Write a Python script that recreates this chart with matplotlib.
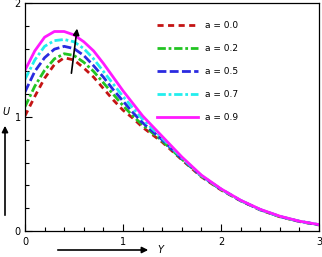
import numpy as np
import matplotlib
matplotlib.use('Agg')
import matplotlib.pyplot as plt
from matplotlib.ticker import MultipleLocator

# values
y_pts = [0.0, 0.1, 0.2, 0.3, 0.4, 0.5, 0.6, 0.7, 0.8, 0.9, 1.0, 1.1, 1.2,
         1.4, 1.6, 1.8, 2.0, 2.2, 2.4, 2.6, 2.8, 3.0]
u_a00 = [1.01, 1.18, 1.34, 1.46, 1.52, 1.50, 1.43, 1.35, 1.25, 1.15, 1.06, 0.99, 0.91,
         0.78, 0.625, 0.475, 0.36, 0.265, 0.185, 0.125, 0.083, 0.053]
u_a02 = [1.09, 1.27, 1.41, 1.51, 1.555, 1.54, 1.48, 1.40, 1.30, 1.20, 1.10, 1.01, 0.93,
         0.79, 0.63, 0.48, 0.363, 0.266, 0.186, 0.126, 0.084, 0.054]
u_a05 = [1.22, 1.40, 1.52, 1.595, 1.62, 1.60, 1.54, 1.45, 1.35, 1.24, 1.14, 1.04, 0.95,
         0.80, 0.635, 0.483, 0.366, 0.267, 0.187, 0.127, 0.085, 0.055]
u_a07 = [1.33, 1.50, 1.62, 1.67, 1.68, 1.66, 1.60, 1.51, 1.40, 1.29, 1.18, 1.08, 0.98,
         0.815, 0.642, 0.486, 0.368, 0.268, 0.188, 0.128, 0.085, 0.055]
u_a09 = [1.41, 1.58, 1.70, 1.75, 1.75, 1.72, 1.66, 1.58, 1.47, 1.35, 1.23, 1.12, 1.01,
         0.83, 0.65, 0.49, 0.37, 0.27, 0.19, 0.13, 0.086, 0.056]
labels = ['a = 0.0', 'a = 0.2', 'a = 0.5', 'a = 0.7', 'a = 0.9']

fig = plt.figure(figsize=(3.22, 2.57), dpi=100)
ax = fig.add_axes([0.0776, 0.1012, 0.9131, 0.8871])

ax.plot(y_pts, u_a00, color='#c41414', lw=2.0, ls=(0, (2.2, 1.6)), label=labels[0])
ax.plot(y_pts, u_a02, color='#22c422', lw=2.0, ls=(0, (3, 1, 1, 1)), label=labels[1])
ax.plot(y_pts, u_a05, color='#2a2ae0', lw=2.0, ls=(0, (3.2, 1.2)), label=labels[2])
ax.plot(y_pts, u_a07, color='#22eeee', lw=2.0, ls=(0, (3, 1, 1, 1)), label=labels[3])
ax.plot(y_pts, u_a09, color='#ff1aff', lw=2.0, ls='-', label=labels[4])

ax.set_xlim(0, 3)
ax.set_ylim(0, 2)
ax.xaxis.set_major_locator(MultipleLocator(1))
ax.xaxis.set_minor_locator(MultipleLocator(0.2))
ax.yaxis.set_major_locator(MultipleLocator(1))
ax.yaxis.set_minor_locator(MultipleLocator(0.2))
ax.tick_params(which='both', direction='in', labelsize=7, width=0.8)
ax.tick_params(axis='x', pad=4)
ax.tick_params(axis='y', pad=3)
ax.tick_params(which='major', length=5)
ax.tick_params(which='minor', length=3)
for s in ax.spines.values():
    s.set_linewidth(0.9)

ax.legend(loc='upper left', bbox_to_anchor=(0.42, 0.958), frameon=False,
          fontsize=6.5, handlelength=4.6, labelspacing=1.55, handletextpad=0.8)

# trend arrow inside the plot
ax.annotate('', xy=(0.535, 1.8), xytext=(0.47, 1.36),
            arrowprops=dict(arrowstyle='-|>', color='black', lw=1.2, mutation_scale=9))

# axis arrows outside the plot
fig.patches.append(matplotlib.patches.FancyArrowPatch(
    (5 / 322, 1 - 218 / 257), (5 / 322, 1 - 123 / 257), transform=fig.transFigure,
    arrowstyle='-|>', mutation_scale=9, lw=1.2, color='black'))
fig.patches.append(matplotlib.patches.FancyArrowPatch(
    (55 / 322, 1 - 250 / 257), (151 / 322, 1 - 250 / 257), transform=fig.transFigure,
    arrowstyle='-|>', mutation_scale=9, lw=1.2, color='black'))
fig.text(6 / 322, 1 - 112 / 257, 'U', fontsize=7, style='italic', ha='center', va='center')
fig.text(160 / 322, 1 - 250 / 257, 'Y', fontsize=7, style='italic', ha='center', va='center')

fig.savefig('out.png', dpi=100)
